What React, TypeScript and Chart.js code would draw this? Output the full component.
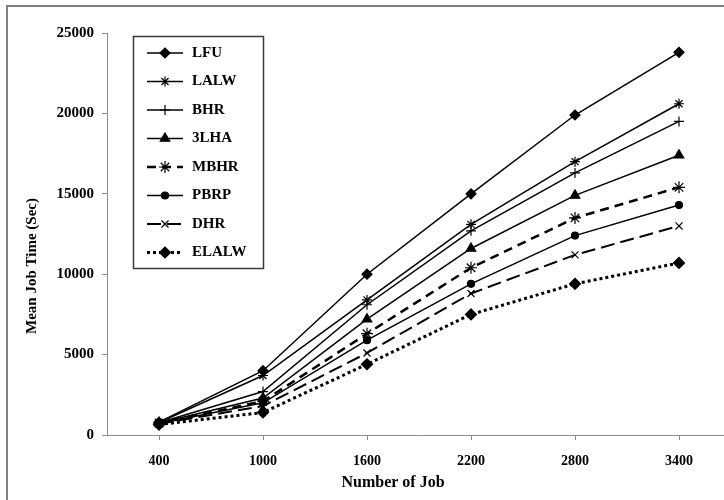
import React, { useEffect, useRef } from 'react';
import { Chart, registerables } from 'chart.js';
import { drawPoint } from 'chart.js/helpers';

Chart.register(...registerables);

const JOBS = ['400', '1000', '1600', '2200', '2800', '3400'];
const LFU = [800, 4000, 10000, 15000, 19900, 23800];
const LALW = [780, 3700, 8400, 13100, 17000, 20600];
const BHR = [760, 2700, 8100, 12700, 16300, 19500];
const LHA3 = [750, 2300, 7200, 11600, 14900, 17400];
const MBHR = [740, 2100, 6300, 10400, 13500, 15400];
const PBRP = [720, 2000, 5900, 9400, 12400, 14300];
const DHR = [700, 1800, 5100, 8800, 11200, 13000];
const ELALW = [650, 1400, 4400, 7500, 9400, 10700];

const Y_MIN = 0;
const Y_MAX = 25000;
const Y_STEP = 5000;
const X_TITLE = 'Number of Job';
const Y_TITLE = 'Mean Job Time (Sec)';

const FONT = '"Liberation Serif", "Times New Roman", serif';

function series(label: string, data: number[], pointStyle: string, radius: number, dash: number[], width: number) {
  return {
    label,
    data,
    pointStyle,
    pointRadius: radius,
    pointHoverRadius: radius,
    pointBorderWidth: 1.2,
    borderColor: '#000',
    backgroundColor: '#000',
    pointBackgroundColor: '#000',
    pointBorderColor: '#000',
    borderWidth: width,
    borderDash: dash,
    tension: 0,
    fill: false,
  };
}

export default function App() {
  const ref = useRef<HTMLCanvasElement>(null);

  useEffect(() => {
    if (!ref.current) return;
    const datasets = [
      series('LFU', LFU, 'rectRot', 5, [], 1.5),
      series('LALW', LALW, 'star', 5, [], 1.5),
      series('BHR', BHR, 'cross', 5, [], 1.5),
      series('3LHA', LHA3, 'triangle', 5.5, [], 1.5),
      series('MBHR', MBHR, 'star', 6, [9, 6], 2.5),
      series('PBRP', PBRP, 'circle', 3.5, [], 1.5),
      series('DHR', DHR, 'crossRot', 5, [14, 6], 2),
      series('ELALW', ELALW, 'rectRot', 5.5, [3, 3], 3),
    ];

    const overlay = {
      id: 'overlay',
      afterDraw(chart: any) {
        const ctx = chart.ctx;
        ctx.save();
        // legend box
        ctx.strokeStyle = '#3a3a3a';
        ctx.lineWidth = 1.5;
        ctx.strokeRect(125.5, 29.5, 130, 232);
        chart.data.datasets.forEach((ds: any, i: number) => {
          const y = 46 + i * 28.5;
          ctx.save();
          ctx.strokeStyle = ds.borderColor;
          ctx.lineWidth = ds.borderWidth;
          ctx.setLineDash(ds.borderDash || []);
          ctx.beginPath();
          ctx.moveTo(139, y);
          ctx.lineTo(175, y);
          ctx.stroke();
          ctx.restore();
          ctx.save();
          ctx.fillStyle = ds.pointBackgroundColor;
          ctx.strokeStyle = ds.pointBorderColor;
          ctx.lineWidth = ds.pointBorderWidth;
          drawPoint(ctx, { pointStyle: ds.pointStyle, rotation: 0, radius: ds.pointRadius, borderWidth: ds.pointBorderWidth }, 157, y);
          ctx.restore();
          ctx.fillStyle = '#000';
          ctx.font = `bold 15px ${FONT}`;
          ctx.textAlign = 'left';
          ctx.textBaseline = 'middle';
          ctx.fillText(ds.label, 184, y);
        });
        // axis titles
        ctx.fillStyle = '#000';
        ctx.textAlign = 'center';
        ctx.textBaseline = 'middle';
        ctx.font = `bold 16px ${FONT}`;
        ctx.fillText(X_TITLE, 385, 476);
        ctx.save();
        ctx.translate(24, 259);
        ctx.rotate(-Math.PI / 2);
        ctx.font = `bold 15px ${FONT}`;
        ctx.fillText(Y_TITLE, 0, 0);
        ctx.restore();
        ctx.restore();
      },
    };

    const chart = new Chart(ref.current, {
      type: 'line',
      data: { labels: JOBS, datasets: datasets as any },
      options: {
        animation: false,
        responsive: false,
        maintainAspectRatio: false,
        layout: { padding: { top: 26, right: 17, left: 0, bottom: 0 } },
        plugins: { legend: { display: false }, tooltip: { enabled: false } },
        scales: {
          x: {
            type: 'category',
            offset: true,
            afterFit: (s: any) => { s.height = 65; },
            grid: { display: true, drawOnChartArea: false, drawTicks: true, tickLength: 5, color: '#8c8c8c', offset: false },
            border: { display: true, color: '#8c8c8c', width: 1 },
            ticks: { color: '#000', padding: 13, font: { family: FONT, size: 14, weight: 'bold' } },
          },
          y: {
            min: Y_MIN,
            max: Y_MAX,
            afterFit: (s: any) => { s.width = 99; },
            grid: { display: true, drawOnChartArea: false, drawTicks: true, tickLength: 5, color: '#8c8c8c' },
            border: { display: true, color: '#8c8c8c', width: 1 },
            ticks: {
              stepSize: Y_STEP,
              color: '#000',
              padding: 8,
              font: { family: FONT, size: 15, weight: 'bold' },
              callback: (v: any) => String(v),
            },
          },
        },
      },
      plugins: [overlay],
    } as any);
    return () => chart.destroy();
  }, []);

  return (
    <div style={{ position: 'fixed', left: 0, top: 0, width: 724, height: 500, overflow: 'hidden', background: '#fff' }}>
      <div style={{ position: 'absolute', left: 6, top: 5, width: 740, height: 520, border: '2px solid #808080' }}>
        <canvas ref={ref} width={740} height={493} style={{ display: 'block', width: 740, height: 493 }} />
      </div>
    </div>
  );
}
